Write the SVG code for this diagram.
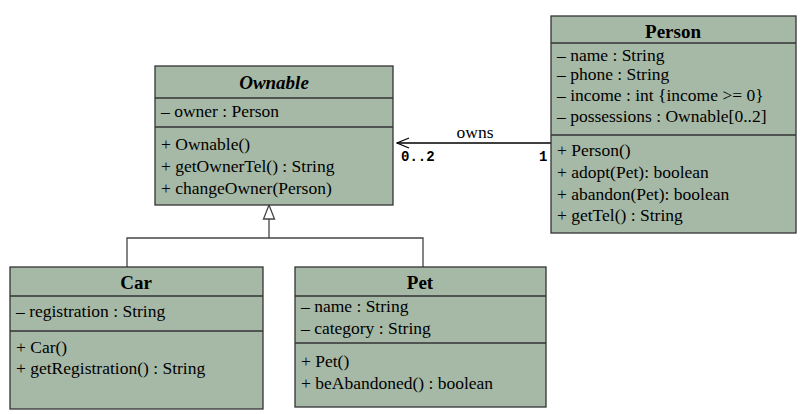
<svg xmlns="http://www.w3.org/2000/svg" width="809" height="414" viewBox="0 0 809 414">
<style>
.box{fill:#a6b9a6;stroke:#333;stroke-width:1.3}
.sep{stroke:#333;stroke-width:1.3}
.t{font-family:"Liberation Serif",serif;font-size:17.5px;fill:#000}
.h{font-family:"Liberation Serif",serif;font-size:19px;font-weight:bold;fill:#000;text-anchor:middle}
.m{font-family:"Liberation Mono",monospace;font-size:14px;font-weight:bold;fill:#000}
.ln{fill:none;stroke:#444;stroke-width:1.3}
</style>
<defs>
<marker id="open" markerWidth="14" markerHeight="12" refX="13" refY="6" orient="auto" markerUnits="userSpaceOnUse">
<path d="M1,1 L13,6 L1,11" fill="none" stroke="#000" stroke-width="1.2"/>
</marker>
</defs>
<rect width="809" height="414" fill="#fff"/>
<g id="connectors">
<line x1="551" y1="143" x2="397" y2="143" stroke="#000" stroke-width="1.3" marker-end="url(#open)"/>
<text class="t" x="475" y="138" text-anchor="middle">owns</text>
<text class="m" x="401" y="161">0..2</text>
<text class="m" x="539" y="161">1</text>
<path class="ln" d="M127,267 V238 H423 V267"/>
<line class="ln" x1="269" y1="238" x2="269" y2="219"/>
<path d="M269,205 L263.5,219 L274.5,219 Z" fill="#fff" stroke="#444" stroke-width="1.3"/>
</g>
<g id="ownable">
<rect class="box" x="155" y="66" width="238" height="139"/>
<line class="sep" x1="155" y1="98" x2="393" y2="98"/>
<line class="sep" x1="155" y1="127" x2="393" y2="127"/>
<text class="h" x="274" y="89" font-style="italic">Ownable</text>
<text class="t" x="161" y="117">– owner : Person</text>
<text class="t" x="161" y="150">+ Ownable()</text>
<text class="t" x="161" y="172">+ getOwnerTel() : String</text>
<text class="t" x="161" y="194">+ changeOwner(Person)</text>
</g>
<g id="person">
<rect class="box" x="551" y="16" width="245" height="217"/>
<line class="sep" x1="551" y1="43" x2="796" y2="43"/>
<line class="sep" x1="551" y1="135" x2="796" y2="135"/>
<text class="h" x="673" y="38">Person</text>
<text class="t" x="557" y="61">– name : String</text>
<text class="t" x="557" y="80">– phone : String</text>
<text class="t" x="557" y="101">– income : int {income &gt;= 0}</text>
<text class="t" x="557" y="122">– possessions : Ownable[0..2]</text>
<text class="t" x="557" y="156">+ Person()</text>
<text class="t" x="557" y="178">+ adopt(Pet): boolean</text>
<text class="t" x="557" y="200">+ abandon(Pet): boolean</text>
<text class="t" x="557" y="221">+ getTel() : String</text>
</g>
<g id="car">
<rect class="box" x="10" y="267" width="253" height="142"/>
<line class="sep" x1="10" y1="296" x2="263" y2="296"/>
<line class="sep" x1="10" y1="331" x2="263" y2="331"/>
<text class="h" x="136" y="289">Car</text>
<text class="t" x="16" y="317">– registration : String</text>
<text class="t" x="16" y="353">+ Car()</text>
<text class="t" x="16" y="374">+ getRegistration() : String</text>
</g>
<g id="pet">
<rect class="box" x="295" y="267" width="251" height="140"/>
<line class="sep" x1="295" y1="296" x2="546" y2="296"/>
<line class="sep" x1="295" y1="343" x2="546" y2="343"/>
<text class="h" x="420" y="289">Pet</text>
<text class="t" x="301" y="312">– name : String</text>
<text class="t" x="301" y="334">– category : String</text>
<text class="t" x="301" y="367">+ Pet()</text>
<text class="t" x="301" y="389">+ beAbandoned() : boolean</text>
</g>
</svg>
